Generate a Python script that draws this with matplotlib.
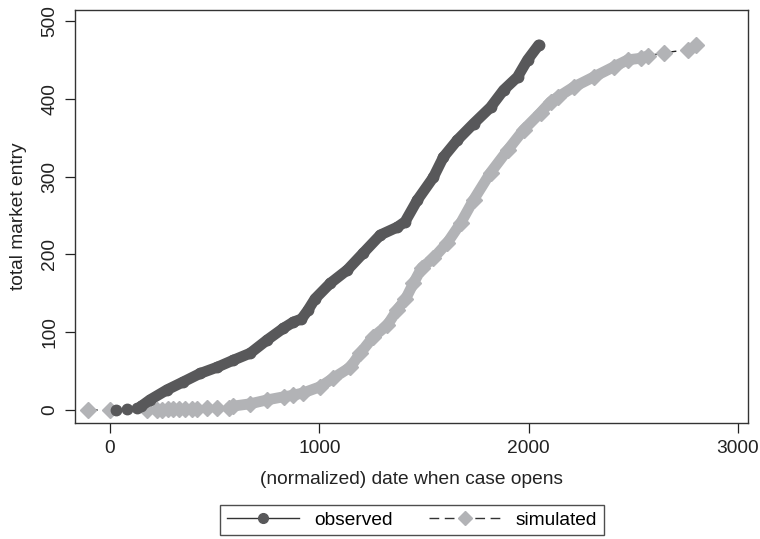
import matplotlib
matplotlib.use("Agg")
import matplotlib.pyplot as plt
from matplotlib.lines import Line2D

plt.rcParams['font.family'] = ['Liberation Sans', 'DejaVu Sans']

# observed series (date, cumulative entry)
obs_x = [30, 80, 130, 150, 191, 273, 349, 431, 512, 589, 670, 751, 828, 876,
         915, 945, 980, 1053, 1134, 1211, 1292, 1373, 1410, 1469, 1545, 1593,
         1660, 1737, 1818, 1880, 1947, 1995, 2048]
obs_y = [0, 1, 2, 5, 13, 26, 36, 47, 55, 64, 73, 90, 105, 113,
         117, 128, 143, 163, 180, 202, 225, 235, 242, 270, 299, 325,
         347, 368, 389, 411, 428, 450, 469]

# simulated series
sim_x = [-105, 0, 177, 225, 250, 275, 300, 330, 360, 390, 416, 464, 512,
         570, 589, 670, 751, 830, 876, 923, 1005, 1067, 1148, 1196, 1258,
         1325, 1373, 1411, 1450, 1490, 1545, 1612, 1675, 1737, 1818, 1900,
         1976, 2057, 2105, 2139, 2215, 2311, 2407, 2474, 2536, 2569, 2646,
         2761, 2799]
sim_y = [0, 0, 0, 0, 0, 1, 1, 1, 1, 1, 1, 2, 2,
         3, 5, 8, 13, 17, 19, 22, 30, 41, 55, 73, 94,
         109, 129, 142, 163, 183, 195, 215, 240, 270, 305, 334,
         360, 382, 396, 402, 415, 428, 441, 450, 452, 455, 459,
         463, 469]

x_ticks = [0, 1000, 2000, 3000]
y_ticks = [0, 100, 200, 300, 400, 500]

obs_col = '#58585a'
sim_col = '#b2b3b6'
dash = (0, (7, 4))
fs = 13.8

fig = plt.figure(figsize=(7.6, 5.39), dpi=100)
ax = fig.add_axes([75/760, 1-423/539, (748-75)/760, (423-10)/539])

# connecting lines
ax.plot(obs_x, obs_y, color='#333333', lw=1.0, ls='-', zorder=2)
ax.plot(sim_x, sim_y, color='#222222', lw=1.0, ls=dash, zorder=1)

# dense bands of overlapping markers
band_lw = 7.8
ax.plot(obs_x[3:], obs_y[3:], color=obs_col, lw=band_lw,
        solid_capstyle='round', solid_joinstyle='round', zorder=3)
ax.plot(sim_x[13:46], sim_y[13:46], color=sim_col, lw=band_lw,
        solid_capstyle='round', solid_joinstyle='round', zorder=1.5)

# markers
ax.plot(sim_x, sim_y, ls='none', marker='D', ms=8, color=sim_col,
        mec=sim_col, zorder=1.6)
ax.plot(obs_x, obs_y, ls='none', marker='o', ms=7.5, color=obs_col,
        mec=obs_col, zorder=3.1)

ax.set_xlim(-167, 3048)
ax.set_ylim(-16.7, 514)
ax.set_xticks(x_ticks)
ax.set_yticks(y_ticks)
ax.set_yticklabels([str(v) for v in y_ticks], rotation=90, va='center')
ax.tick_params(axis='both', direction='out', length=7, width=0.9,
               colors='#222222', labelsize=fs, pad=5)
for s in ax.spines.values():
    s.set_color('#333333')
    s.set_linewidth(1.0)

ax.set_xlabel('(normalized) date when case opens', fontsize=fs,
              labelpad=10, color='#222222')
ax.set_ylabel('total market entry', fontsize=fs, labelpad=10,
              color='#222222')

handles = [
    Line2D([], [], color='#333333', lw=1.0, marker='o', ms=7,
           mfc=obs_col, mec=obs_col),
    Line2D([], [], color='#333333', lw=1.0, ls=dash, marker='D',
           ms=7, mfc=sim_col, mec=sim_col),
]
leg = fig.legend(handles, ['observed', 'simulated'], loc='center',
                 bbox_to_anchor=(412/760, 1-520/539), ncol=2,
                 frameon=True, fancybox=False, fontsize=fs,
                 handlelength=3.8, columnspacing=1.9, handletextpad=0.75,
                 borderpad=0.35, borderaxespad=0, edgecolor='#222222')
leg.get_frame().set_linewidth(1.0)

fig.savefig('out.png', dpi=100)
